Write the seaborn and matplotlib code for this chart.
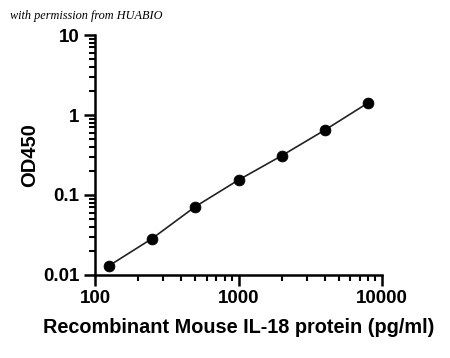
import matplotlib
matplotlib.use("Agg")
import matplotlib.pyplot as plt
import matplotlib.ticker as mticker
import seaborn as sns
import pandas as pd

concentration = [125, 250, 500, 1000, 2000, 4000, 8000]
od450 = [0.013, 0.0285, 0.0715, 0.154, 0.31, 0.65, 1.42]
x_ticks = [100, 1000, 10000]
x_tick_labels = ["100", "1000", "10000"]
y_ticks = [0.01, 0.1, 1, 10]
y_tick_labels = ["0.01", "0.1", "1", "10"]

sns.set_theme(style="ticks")
plt.rcParams['font.family'] = ['Liberation Sans', 'DejaVu Sans']

df = pd.DataFrame({"conc": concentration, "od": od450})

fig = plt.figure(figsize=(4.5, 3.58), dpi=100)
ax = fig.add_axes([0.211, 0.232, 0.638, 0.670])

sns.lineplot(data=df, x="conc", y="od", ax=ax, color="#222222", linewidth=1.2)
sns.scatterplot(data=df, x="conc", y="od", ax=ax, color="black", s=60,
                edgecolor="black", zorder=3)

ax.set_xscale("log")
ax.set_yscale("log")
ax.set_xlim(100, 10000)
ax.set_ylim(0.01, 10)
ax.set_xticks(x_ticks)
ax.set_xticklabels(x_tick_labels)
ax.set_yticks(y_ticks)
ax.set_yticklabels(y_tick_labels)
ax.xaxis.set_minor_locator(mticker.LogLocator(base=10, subs=range(2, 10), numticks=20))
ax.yaxis.set_minor_locator(mticker.LogLocator(base=10, subs=range(2, 10), numticks=20))
ax.xaxis.set_minor_formatter(mticker.NullFormatter())
ax.yaxis.set_minor_formatter(mticker.NullFormatter())

for s in ["top", "right"]:
    ax.spines[s].set_visible(False)
for s in ["left", "bottom"]:
    ax.spines[s].set_linewidth(1.8)
    ax.spines[s].set_color("black")

ax.tick_params(which="major", length=8, width=1.8, color="black",
               labelsize=13.5, labelcolor="black", direction="out", pad=3)
ax.tick_params(which="minor", length=4, width=1.5, color="black", direction="out")
for lab in ax.get_xticklabels() + ax.get_yticklabels():
    lab.set_fontweight("bold")

ax.set_xlabel("Recombinant Mouse IL-18 protein (pg/ml)", fontsize=14.3,
              fontweight="bold", color="black", labelpad=8)
ax.set_ylabel("OD450", fontsize=14.5, fontweight="bold", color="black", labelpad=3)
ax.set_facecolor("white")

fig.text(0.022, 0.955, "with permission from HUABIO", fontsize=8.8,
         fontstyle="italic", family=["Liberation Serif", "DejaVu Serif"],
         color="black", va="center", ha="left")

fig.savefig("out.png", dpi=100, facecolor="white")
